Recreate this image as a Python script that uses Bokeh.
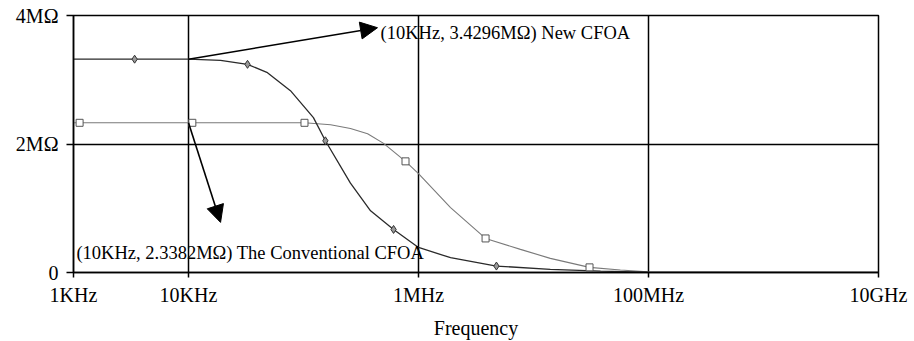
from bokeh.plotting import figure
from bokeh.models import (FixedTicker, CustomJSTickFormatter, Arrow, NormalHead, Label, Range1d)
from bokeh.embed import file_html
from bokeh.resources import INLINE

# ---- data ----
# New CFOA transimpedance (ohm) vs frequency (Hz)
new_freq = [1e3, 3.4e3, 1e4, 1.9e4, 3.26e4, 4.86e4, 7.7e4, 1.22e5, 1.55e5, 2.56e5,
            3.83e5, 6.07e5, 1e6, 1.9e6, 4.76e6, 1.4e7, 3.83e7, 9.8e7, 1e10]
new_res = [3.32e6, 3.32e6, 3.32e6, 3.30e6, 3.24e6, 3.11e6, 2.83e6, 2.41e6, 2.05e6, 1.39e6,
           0.96e6, 0.67e6, 0.39e6, 0.23e6, 0.10e6, 0.05e6, 0.02e6, 0.005e6, 0.0]
new_mark_freq = [3.4e3, 3.26e4, 1.55e5, 6.07e5, 4.76e6]
new_mark_res = [3.32e6, 3.24e6, 2.05e6, 0.67e6, 0.10e6]

# Conventional CFOA
conv_freq = [1e3, 1.13e3, 1.08e4, 1.02e5, 1.72e5, 2.56e5, 3.61e5, 4.97e5, 7.71e5, 1e6,
             1.9e6, 3.83e6, 7.7e6, 1.4e7, 3.07e7, 5.7e7, 9.8e7, 1e10]
conv_res = [2.33e6, 2.33e6, 2.33e6, 2.33e6, 2.30e6, 2.24e6, 2.16e6, 2.01e6, 1.73e6, 1.54e6,
            1.01e6, 0.53e6, 0.36e6, 0.22e6, 0.08e6, 0.04e6, 0.01e6, 0.0]
conv_mark_freq = [1.13e3, 1.08e4, 1.02e5, 7.71e5, 3.83e6, 3.07e7]
conv_mark_res = [2.33e6, 2.33e6, 2.33e6, 1.73e6, 0.53e6, 0.08e6]

x_ticks = [1e3, 1e4, 1e6, 1e8, 1e10]
x_labels = ["1KHz", "10KHz", "1MHz", "100MHz", "10GHz"]
x_grid = [1e4, 1e6, 1e8]
y_ticks = [0, 2e6, 4e6]
y_labels = ["0", "2M\u03a9", "4M\u03a9"]
y_grid = [2e6]

# annotations
ann1_text = "(10KHz, 3.4296M\u03a9) New CFOA"
ann1_tip = (4.4e5, 3.81e6)
ann1_pos = (4.68e5, 3.735e6)
ann2_text = "(10KHz, 2.3382M\u03a9) The Conventional CFOA"
ann2_tip = (1.9e4, 0.78e6)
ann2_pos = (1.06e3, 0.30e6)

FONT = "Liberation Serif"

p = figure(width=914, height=341, x_axis_type="log",
           x_range=Range1d(1e3, 1e10), y_range=Range1d(0, 4e6),
           output_backend="svg", toolbar_location=None,
           min_border_left=73, min_border_right=36, min_border_top=15, min_border_bottom=69)
p.background_fill_color = "white"
p.border_fill_color = "white"
p.outline_line_color = "black"
p.outline_line_width = 1.5

# grid
p.xgrid.ticker = FixedTicker(ticks=x_grid)
p.ygrid.ticker = FixedTicker(ticks=y_grid)
for g in (p.xgrid[0], p.ygrid[0]):
    g.grid_line_color = "black"
    g.grid_line_width = 1.5
    g.grid_line_alpha = 1.0

# axes
p.xaxis.ticker = FixedTicker(ticks=x_ticks)
p.xaxis.formatter = CustomJSTickFormatter(args=dict(vals=x_ticks, labs=x_labels), code="""
    for (let i = 0; i < vals.length; i++) { if (Math.abs(Math.log10(tick) - Math.log10(vals[i])) < 1e-6) return labs[i]; }
    return "";
""")
p.yaxis.ticker = FixedTicker(ticks=y_ticks)
p.yaxis.formatter = CustomJSTickFormatter(args=dict(vals=y_ticks, labs=y_labels), code="""
    for (let i = 0; i < vals.length; i++) { if (Math.abs(tick - vals[i]) < 1) return labs[i]; }
    return "";
""")
for ax in (p.xaxis[0], p.yaxis[0]):
    ax.axis_line_color = "black"
    ax.axis_line_width = 1.5
    ax.major_tick_line_color = "black"
    ax.major_tick_line_width = 1.5
    ax.major_tick_in = 0
    ax.minor_tick_line_color = None
    ax.major_label_text_font = FONT
    ax.major_label_text_font_size = "20px"
    ax.major_label_text_color = "black"
p.xaxis.major_tick_out = 5
p.xaxis.major_label_standoff = 6
p.yaxis.major_tick_out = 7
p.yaxis.major_label_standoff = 8
p.xaxis.axis_label = "Frequency"
p.xaxis.axis_label_text_font = FONT
p.xaxis.axis_label_text_font_size = "20px"
p.xaxis.axis_label_text_font_style = "normal"
p.xaxis.axis_label_text_color = "black"
p.xaxis.axis_label_standoff = 8

# curves
p.line(conv_freq, conv_res, line_color="#7a7a7a", line_width=1.1)
p.line(new_freq, new_res, line_color="#2a2a2a", line_width=1.3)
p.scatter(conv_mark_freq, conv_mark_res, marker="square", size=7,
          fill_color="white", line_color="#555555", line_width=1)
p.scatter(new_mark_freq, new_mark_res, marker="diamond", size=8,
          fill_color="#999999", line_color="#333333", line_width=1)

# annotations
start1 = (x_grid[0], new_res[new_freq.index(1e4)])
start2 = (x_grid[0], conv_res[2])
for start, tip in ((start1, ann1_tip), (start2, ann2_tip)):
    p.add_layout(Arrow(end=NormalHead(size=17, fill_color="black", line_color="black"),
                       x_start=start[0], y_start=start[1], x_end=tip[0], y_end=tip[1],
                       line_color="black", line_width=1.6))
for txt, pos in ((ann1_text, ann1_pos), (ann2_text, ann2_pos)):
    p.add_layout(Label(x=pos[0], y=pos[1], text=txt, text_font=FONT,
                       text_font_size="18.5px", text_baseline="middle", text_color="black"))

open("out.html", "w").write(file_html(p, INLINE))
